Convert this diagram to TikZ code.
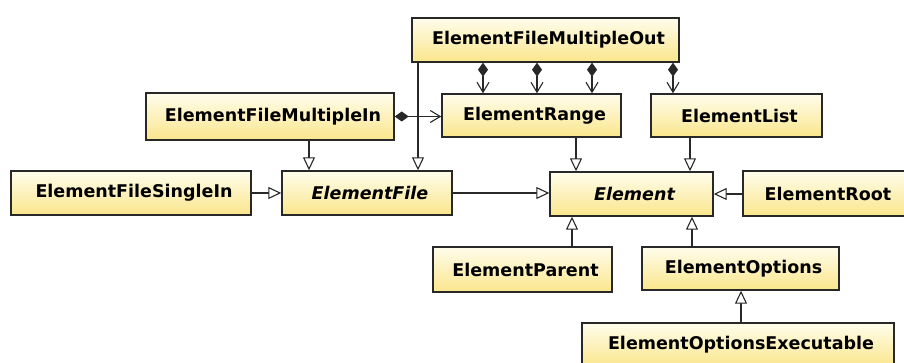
\documentclass[tikz,border=0pt]{standalone}
\usepackage{fontspec}
\setmainfont{DejaVu Sans}
\usetikzlibrary{arrows.meta}
\definecolor{boxtop}{RGB}{255,253,236}
\definecolor{boxbot}{RGB}{250,230,140}
\definecolor{edge}{RGB}{40,40,40}
\tikzset{
  umlbox/.style={draw=edge, line width=1.4pt, top color=boxtop, bottom color=boxbot,
    inner sep=0pt, font=\bfseries\fontsize{17.5}{20}\selectfont, text=black},
  inh/.style={draw=edge, line width=1.1pt, -{Triangle[length=13pt,width=12pt,fill=white,line width=1.1pt]}},
  comp/.style={draw=edge, line width=1.1pt, {Diamond[length=14pt,width=10pt]}-{Straight Barb[length=10pt,width=12pt,line width=1.1pt]}}
}
\begin{document}
\begin{tikzpicture}[x=1pt,y=-1pt]
\useasboundingbox (0,0) rectangle (904,363);
\clip (0,0) rectangle (904,363);
\fill[white] (0,0) rectangle (904,363);
% boxes
\node[umlbox, minimum width=267pt, minimum height=44pt] (mout) at (545.5,40) {\hspace{6pt}ElementFileMultipleOut};
\node[umlbox, minimum width=179pt, minimum height=43pt] (range) at (531.5,115.5) {\hspace{6pt}ElementRange};
\node[umlbox, minimum width=171pt, minimum height=43pt] (list) at (736.5,115.5) {\hspace{6pt}ElementList};
\node[umlbox, minimum width=248pt, minimum height=47pt] (min) at (270,116.5) {\hspace{6pt}ElementFileMultipleIn};
\node[umlbox, minimum width=240pt, minimum height=44pt] (sin) at (131,193) {\hspace{6pt}ElementFileSingleIn};
\node[umlbox, minimum width=170pt, minimum height=44pt] (file) at (367,193) {\hspace{6pt}\itshape ElementFile};
\node[umlbox, minimum width=163pt, minimum height=44pt] (element) at (631.5,194) {\hspace{6pt}\itshape Element};
\node[umlbox, minimum width=170pt, minimum height=45pt] (root) at (828,193.5) {ElementRoot};
\node[umlbox, minimum width=179pt, minimum height=45pt] (parent) at (522.5,269.5) {\hspace{6pt}ElementParent};
\node[umlbox, minimum width=197pt, minimum height=43pt] (options) at (740.5,268.5) {\hspace{6pt}ElementOptions};
\node[umlbox, minimum width=312pt, minimum height=44pt] (exec) at (738,345) {\hspace{6pt}ElementOptionsExecutable};
% compositions
\draw[comp] ([xshift=-62.5pt]mout.south) -- ([xshift=-62.5pt]mout.south |- range.north);
\draw[comp] ([xshift=-8.5pt]mout.south) -- ([xshift=-8.5pt]mout.south |- range.north);
\draw[comp] ([xshift=46.5pt]mout.south) -- ([xshift=46.5pt]mout.south |- range.north);
\draw[comp] ([xshift=127.5pt]mout.south) -- ([xshift=127.5pt]mout.south |- list.north);
\draw[comp] (min.east) -- (min.east -| range.west);
% inheritance
\draw[inh] ([xshift=-127.5pt]mout.south) -- ([xshift=-127.5pt]mout.south |- file.north);
\draw[inh] ([xshift=39pt]min.south) -- ([xshift=39pt]min.south |- file.north);
\draw[inh] (sin.east) -- (file.west);
\draw[inh] (file.east) -- (file.east -| element.west);
\draw[inh] ([xshift=44.5pt]range.south) -- ([xshift=44.5pt]range.south |- element.north);
\draw[inh] ([xshift=-46.5pt]list.south) -- ([xshift=-46.5pt]list.south |- element.north);
\draw[inh] (root.west |- element.east) -- (element.east);
\draw[inh] ([xshift=49.5pt]parent.north) -- ([xshift=49.5pt]parent.north |- element.south);
\draw[inh] ([xshift=-48.5pt]options.north) -- ([xshift=-48.5pt]options.north |- element.south);
\draw[inh] ([xshift=3pt]exec.north) -- ([xshift=3pt]exec.north |- options.south);
\end{tikzpicture}
\end{document}
